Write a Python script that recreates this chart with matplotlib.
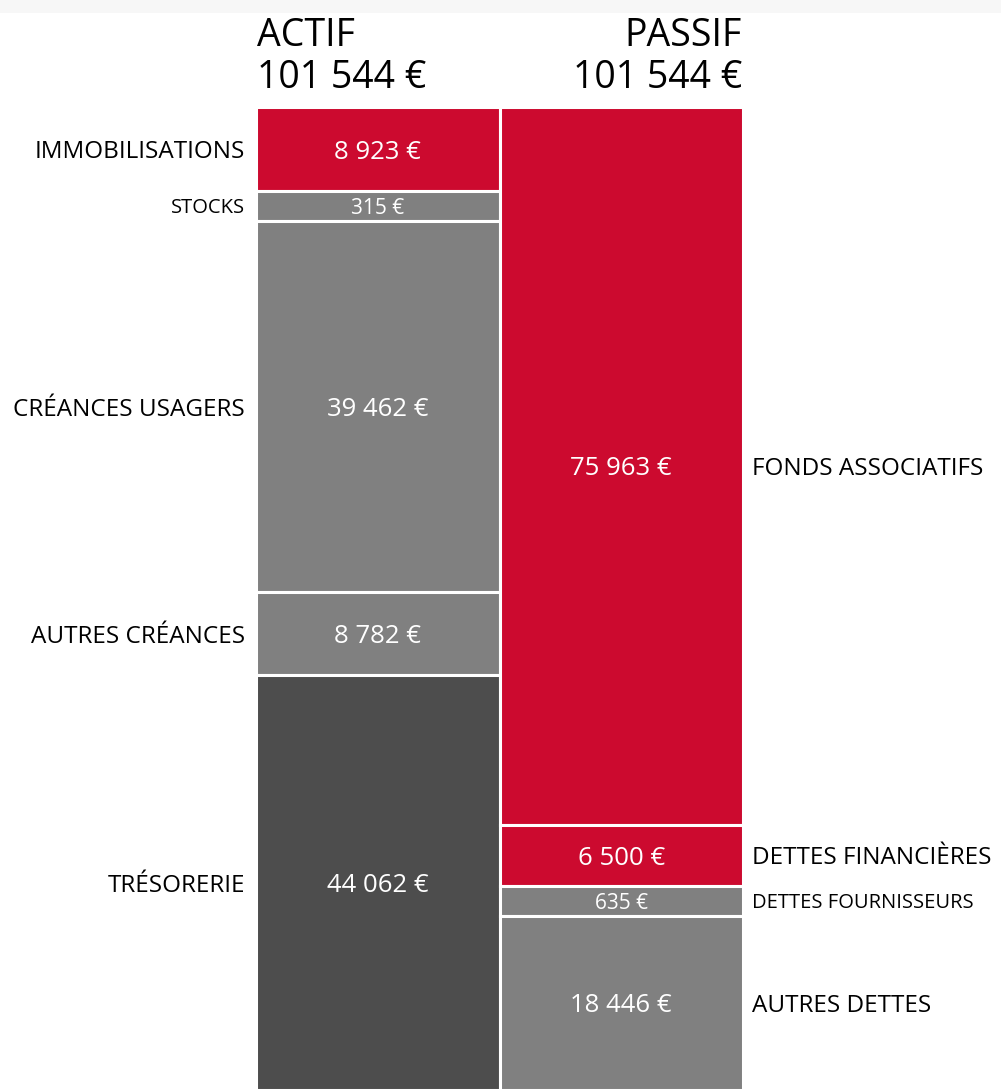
import matplotlib
matplotlib.use("Agg")
import matplotlib.pyplot as plt
import numpy as np

# ---- data ----
actif_labels = ["IMMOBILISATIONS", "STOCKS", "CRÉANCES USAGERS", "AUTRES CRÉANCES", "TRÉSORERIE"]
actif_values = [8923, 315, 39462, 8782, 44062]
actif_colors = ["#CC0A2F", "#808080", "#808080", "#808080", "#4D4D4D"]

passif_labels = ["FONDS ASSOCIATIFS", "DETTES FINANCIÈRES", "DETTES FOURNISSEURS", "AUTRES DETTES"]
passif_values = [75963, 6500, 635, 18446]
passif_colors = ["#CC0A2F", "#CC0A2F", "#808080", "#808080"]

headers = ["ACTIF", "PASSIF"]

FONT = "Open Sans"
W, H = 1001, 1089
fig = plt.figure(figsize=(W / 100, H / 100), dpi=100)
fig.patch.set_facecolor("white")

# light band at the top
band = fig.add_axes([0, 1 - 13 / H, 1, 13 / H])
band.set_axis_off()
band.add_patch(plt.Rectangle((0, 0), 1, 1, color="#F7F7F7", transform=band.transAxes))

x0, x1 = 256, 743
y0, y1 = 107, 1090
ax = fig.add_axes([x0 / W, 1 - y1 / H, (x1 - x0) / W, (y1 - y0) / H])


def fmt(v):
    return f"{v:,}".replace(",", " ") + " €"


def display_heights(vals, min_share=0.031):
    total = sum(vals)
    m = min_share * total
    d = [max(v, m) for v in vals]
    s = total / sum(d)
    return [v * s for v in d], [v < m for v in vals]


total = sum(actif_values)
for xi, labels, vals, colors, side in [
    (0, actif_labels, actif_values, actif_colors, "left"),
    (1, passif_labels, passif_values, passif_colors, "right"),
]:
    hts, small = display_heights(vals)
    bottoms = np.concatenate([[0], np.cumsum(hts)[:-1]])
    ax.bar([xi] * len(hts), hts, bottom=bottoms, width=1.0, color=colors,
           edgecolor="white", linewidth=2.2, align="center")
    for lab, v, h, b, sm in zip(labels, vals, hts, bottoms, small):
        yc = b + h / 2
        fs = 15 if sm else 18.5
        ax.text(xi, yc, fmt(v), ha="center", va="center_baseline", color="white",
                fontsize=fs, family=FONT)
        lfs = 14.5 if sm else 17.5
        if side == "left":
            ax.annotate(lab, (-0.5, yc), xytext=(-11, 0), textcoords="offset pixels",
                        ha="right", va="center_baseline", fontsize=lfs, family=FONT, color="black")
        else:
            ax.annotate(lab, (1.5, yc), xytext=(9, 0), textcoords="offset pixels",
                        ha="left", va="center_baseline", fontsize=lfs, family=FONT, color="black")

ax.set_xlim(-0.5, 1.5)
ax.set_ylim(total, 0)
ax.set_axis_off()

# headers
hfs = 27
fig.text(257 / W, 1 - 31 / H, headers[0], ha="left", va="center_baseline", fontsize=hfs, family=FONT)
fig.text(257 / W, 1 - 73 / H, fmt(sum(actif_values)), ha="left", va="center_baseline", fontsize=hfs, family=FONT)
fig.text(742 / W, 1 - 31 / H, headers[1], ha="right", va="center_baseline", fontsize=hfs, family=FONT)
fig.text(742 / W, 1 - 73 / H, fmt(sum(passif_values)), ha="right", va="center_baseline", fontsize=hfs, family=FONT)

fig.savefig("out.png", dpi=100)
